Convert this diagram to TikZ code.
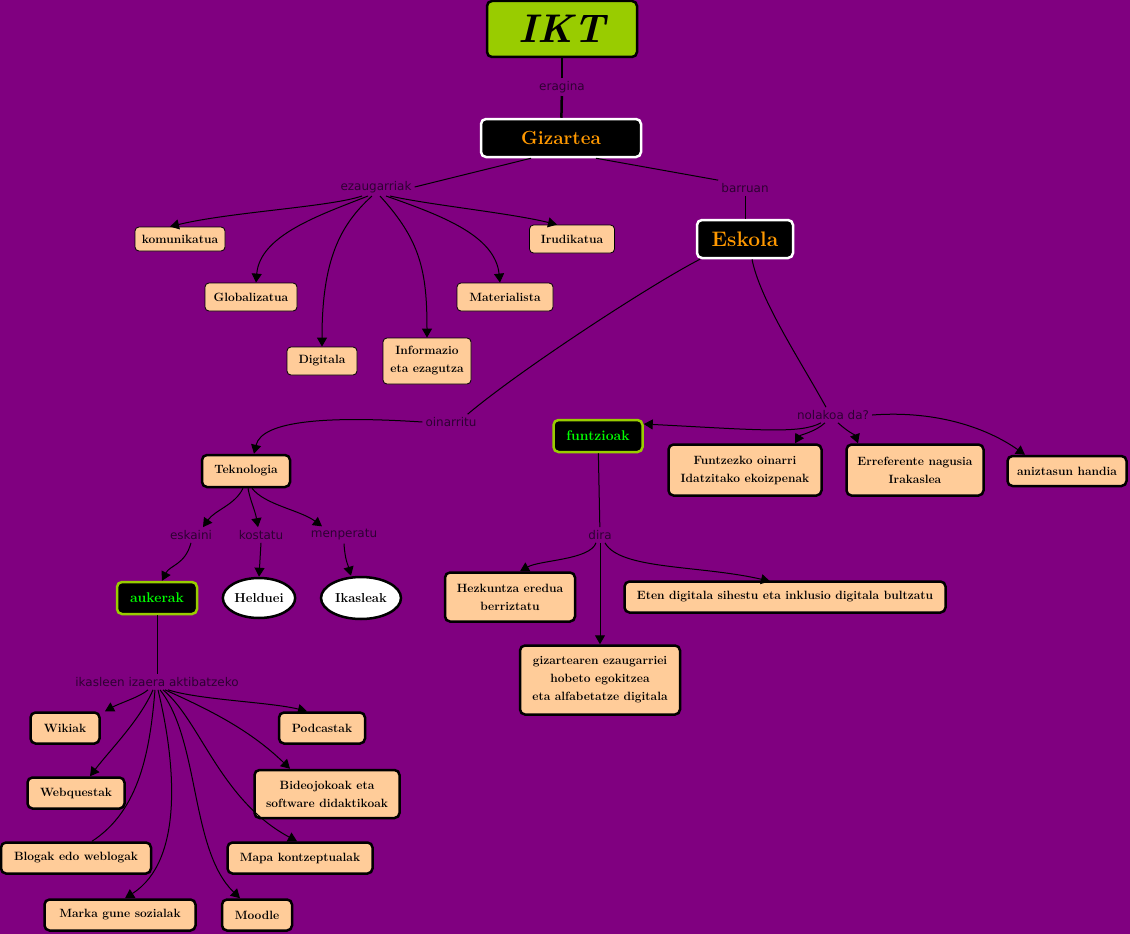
\documentclass[tikz,border=0pt]{standalone}
\usepackage{fontspec}
\usepackage{xcolor}
\usepackage{tikz}
\usetikzlibrary{shapes, arrows.meta, positioning, calc}
\newfontfamily\lblfont{DejaVu Sans}
\definecolor{bgpurple}{HTML}{800080}
\definecolor{iktgreen}{HTML}{99CC00}
\definecolor{peach}{HTML}{FFCC99}
\definecolor{hubtext}{HTML}{FF9900}
\definecolor{topictext}{HTML}{00FF00}
\definecolor{lblcol}{HTML}{2E0033}

\begin{document}
\begin{tikzpicture}[x=1pt, y=-1pt,
		sz/.style 2 args={minimum width=#1pt, minimum height=#2pt},
		root/.style={draw=black, line width=2.5pt, fill=iktgreen, rounded corners=5pt, inner sep=1pt,
			font=\fontsize{40}{40}\selectfont\bfseries\itshape},
		hub/.style={draw=white, line width=2.5pt, fill=black, text=hubtext, rounded corners=5pt, inner sep=1pt},
		topic/.style={draw=iktgreen, line width=2.5pt, fill=black, text=topictext, rounded corners=5pt, inner sep=1pt,
			font=\fontsize{14}{16}\selectfont\bfseries},
		leaf/.style={draw=black, line width=0.8pt, fill=peach, rounded corners=4pt, inner sep=1pt, align=center,
			font=\fontsize{12}{18}\selectfont\bfseries},
		leafb/.style={leaf, line width=2.5pt, rounded corners=5pt},
		oval/.style={ellipse, draw=black, line width=2.5pt, fill=white, inner sep=1pt,
			font=\fontsize{13}{15}\selectfont\bfseries},
		lbl/.style={inner sep=3pt, text=lblcol, font=\lblfont\fontsize{12}{14}\selectfont},
		conn/.style={draw=black, line width=1pt},
		arr/.style={conn, -{Triangle[length=9pt, width=10pt]}}]
	\path[use as bounding box, fill=bgpurple] (0,0) rectangle (1130,934);

	% top of the map
	\node[root, sz={150}{56}] (ikt) at (562,29) {IKT};
	\node[lbl] (eragina) at (562,87) {eragina};
	\node[hub, sz={160}{38}, font=\fontsize{19}{21}\selectfont\bfseries] (gizartea) at (561,138) {Gizartea};
	\node[lbl] (ezaug) at (376,187) {ezaugarriak};
	\node[lbl] (barruan) at (745,188) {barruan};
	\node[hub, sz={96}{38}, font=\fontsize{21}{23}\selectfont\bfseries] (eskola) at (745,239) {Eskola};
	\draw[conn, line width=2.5pt] (ikt) -- (eragina);
	\draw[conn, line width=2.5pt] (eragina) -- (gizartea);
	\draw[conn] ([xshift=-30]gizartea.south) -- (ezaug.east);
	\draw[conn] ([xshift=35]gizartea.south) -- (barruan.north west);
	\draw[conn] (barruan) -- (eskola);

	% ezaugarriak
	\node[leaf, sz={90}{24}] (komun) at (180,239) {komunikatua};
	\node[leaf, sz={85}{28}] (irudi) at (572,239) {Irudikatua};
	\node[leaf, sz={92}{28}] (global) at (251,297) {Globalizatua};
	\node[leaf, sz={96}{28}] (mater) at (505,297) {Materialista};
	\node[leaf, sz={70}{28}] (digit) at (322,361) {Digitala};
	\node[leaf, sz={88}{46}] (inform) at (427,361) {Informazio\\eta ezagutza};
	\draw[arr] ([xshift=-14]ezaug.south) .. controls (330,207) and (230,212) .. ([xshift=-10]komun.north);
	\draw[arr] ([xshift=-8]ezaug.south) .. controls (320,215) and (260,235) .. ([xshift=5]global.north);
	\draw[arr] ([xshift=-4]ezaug.south) .. controls (340,225) and (322,260) .. (digit.north);
	\draw[arr] ([xshift=4]ezaug.south) .. controls (420,240) and (427,270) .. (inform.north);
	\draw[arr] ([xshift=10]ezaug.south) .. controls (440,215) and (495,235) .. ([xshift=-5]mater.north);
	\draw[arr] ([xshift=14]ezaug.south) .. controls (430,205) and (510,213) .. ([xshift=-15]irudi.north);

	% Eskola
	\node[lbl] (oinarritu) at (451,422) {oinarritu};
	\node[lbl] (nolakoa) at (833,415) {nolakoa da?};
	\node[topic, sz={89}{32}] (funtz) at (598,436) {funtzioak};
	\node[leafb, sz={153}{51}] (funtzezko) at (745,470) {Funtzezko oinarri\\Idatzitako ekoizpenak};
	\node[leafb, sz={137}{51}] (errefer) at (915,470) {Erreferente nagusia\\Irakaslea};
	\node[leafb, sz={119}{30}] (anizt) at (1067,471) {aniztasun handia};
	\draw[conn] ([xshift=-45]eskola.south) .. controls (650,285) and (520,370) .. ([xshift=-12]oinarritu.north east);
	\draw[conn] ([xshift=7]eskola.south) .. controls (760,300) and (800,360) .. ([xshift=-7]nolakoa.north);
	\draw[arr] ([xshift=-12]nolakoa.south) .. controls (800,434) and (760,430) .. ([yshift=12]funtz.east);
	\draw[arr] ([xshift=-8]nolakoa.south) .. controls (815,432) and (800,435) .. ([xshift=50]funtzezko.north);
	\draw[arr] ([xshift=5]nolakoa.south) .. controls (848,432) and (855,435) .. ([xshift=-57]errefer.north);
	\draw[arr] (nolakoa.east) .. controls (940,410) and (990,430) .. ([xshift=-42]anizt.north);

	% funtzioak
	\node[lbl] (dira) at (600,535) {dira};
	\node[leafb, sz={130}{49}] (hezkuntza) at (510,597) {Hezkuntza eredua\\berriztatu};
	\node[leafb, sz={321}{31}] (eten) at (785,597) {Eten digitala sihestu eta inklusio digitala bultzatu};
	\node[leafb, sz={160}{69}] (gizartearen) at (600,680) {gizartearen ezaugarriei\\hobeto egokitzea\\eta alfabetatze digitala};
	\draw[conn] (funtz) -- (dira);
	\draw[arr] ([xshift=-4]dira.south) .. controls (590,560) and (540,560) .. ([xshift=10]hezkuntza.north);
	\draw[arr] (dira.south) -- (gizartearen.north);
	\draw[arr] ([xshift=5]dira.south) .. controls (620,570) and (700,565) .. ([xshift=-15,yshift=-1]eten.north);

	% Teknologia
	\node[leafb, sz={88}{32}] (tekno) at (246,471) {Teknologia};
	\node[lbl] (eskaini) at (191,535) {eskaini};
	\node[lbl] (kostatu) at (261,535) {kostatu};
	\node[lbl] (menperatu) at (344,535) {menperatu};
	\node[topic, sz={80}{32}] (aukerak) at (157,598) {aukerak};
	\node[oval, sz={67}{40}] (helduei) at (259,598) {Helduei};
	\node[oval, sz={80}{42}] (ikasleak) at (361,598) {Ikasleak};
	\draw[arr] (oinarritu.west) .. controls (330,416) and (262,420) .. ([xshift=8]tekno.north);
	\draw[arr] ([xshift=-3]tekno.south) .. controls (235,505) and (215,510) .. ([xshift=12]eskaini.north);
	\draw[arr] ([xshift=2]tekno.south) .. controls (250,500) and (255,510) .. ([xshift=-3]kostatu.north);
	\draw[arr] ([xshift=6]tekno.south) .. controls (265,505) and (300,510) .. ([xshift=-22]menperatu.north);
	\draw[arr] (eskaini.south) .. controls (185,565) and (170,565) .. ([xshift=5]aukerak.north);
	\draw[arr] (kostatu.south) -- (helduei.north);
	\draw[arr] (menperatu.south) .. controls (345,560) and (348,565) .. ([xshift=-10]ikasleak.north);

	% aukerak
	\node[lbl] (ikasleen) at (157,682) {ikasleen izaera aktibatzeko};
	\node[leafb, sz={69}{31}] (wikiak) at (65,728) {Wikiak};
	\node[leafb, sz={86}{31}] (podcast) at (322,728) {Podcastak};
	\node[leafb, sz={97}{31}] (webquest) at (76,793) {Webquestak};
	\node[leafb, sz={145}{48}] (bideo) at (327,794) {Bideojokoak eta\\software didaktikoak};
	\node[leafb, sz={150}{31}] (blogak) at (76,858) {Blogak edo weblogak};
	\node[leafb, sz={145}{31}] (mapa) at (300,858) {Mapa kontzeptualak};
	\node[leafb, sz={151}{31}] (marka) at (120,915) {Marka gune sozialak};
	\node[leafb, sz={70}{31}] (moodle) at (257,915) {Moodle};
	\draw[conn] (aukerak) -- (ikasleen);
	\draw[arr] ([xshift=-9]ikasleen.south) .. controls (140,697) and (120,703) .. ([xshift=40]wikiak.north);
	\draw[arr] ([xshift=11]ikasleen.south) .. controls (200,700) and (270,702) .. ([xshift=-15]podcast.north);
	\draw[arr] ([xshift=-4]ikasleen.south) .. controls (140,720) and (110,750) .. ([xshift=14]webquest.north);
	\draw[arr] ([xshift=8]ikasleen.south) .. controls (210,710) and (250,730) .. ([xshift=-37]bideo.north);
	\draw[conn] ([xshift=-2]ikasleen.south) .. controls (150,750) and (140,810) .. ([xshift=16]blogak.north);
	\draw[arr] ([xshift=6]ikasleen.south) .. controls (200,720) and (220,800) .. ([xshift=-3]mapa.north);
	\draw[arr] ([xshift=1]ikasleen.south) .. controls (175,760) and (185,860) .. ([xshift=5]marka.north);
	\draw[arr] ([xshift=3]ikasleen.south) .. controls (200,740) and (190,850) .. ([xshift=-17]moodle.north);
\end{tikzpicture}
\end{document}
